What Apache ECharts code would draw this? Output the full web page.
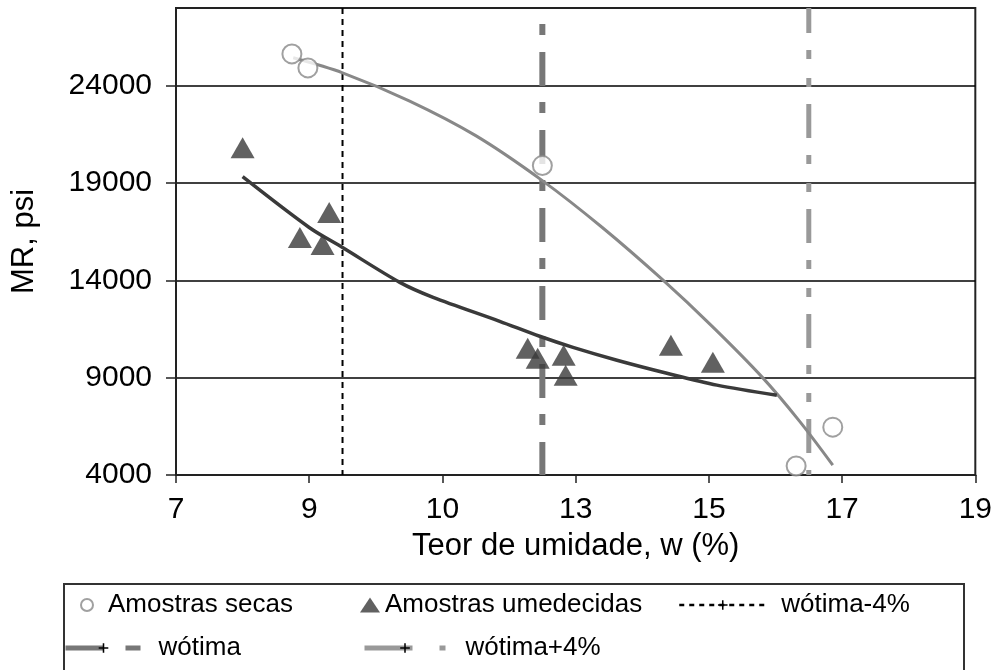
<!DOCTYPE html>
<html>
<head>
<meta charset="utf-8">
<script src="https://cdn.jsdelivr.net/npm/echarts@6/dist/echarts.min.js"></script>
<style>html,body{margin:0;padding:0;background:#fff}#c{width:995px;height:670px}</style>
</head>
<body>
<div id="c"></div>
<script>
// ---- data ----
var xTickValues = [7, 9, 11, 13, 15, 17, 19];
var xTickLabels = ['7', '9', '10', '13', '15', '17', '19'];
var yTickValues = [4000, 9000, 14000, 19000, 24000];

var secasX = [8.74, 8.98, 12.5, 16.31, 16.86];
var secasY = [25640, 24920, 19900, 4460, 6460];

var umedX = [8.0, 8.86, 9.2, 9.3, 12.28, 12.43, 12.82, 12.85, 14.43, 15.06];
var umedY = [20820, 16200, 15850, 17490, 10510, 10000, 10150, 9130, 10670, 9800];

var fitSecasX = [8.76, 9.5, 10.5, 11.5, 12.5, 13.4, 14.3, 15.05, 15.8, 16.36, 16.86];
var fitSecasY = [25440, 24670, 23230, 21440, 19130, 16720, 14050, 11640, 9030, 6770, 4510];

var fitUmedX = [8.0, 9.0, 9.5, 10.36, 10.86, 11.86, 12.46, 12.96, 13.62, 14.37, 15.12, 16.02];
var fitUmedY = [19330, 16720, 15690, 13900, 13130, 11900, 11130, 10560, 9900, 9230, 8620, 8100];

var wOtimaMenos = 9.5, wOtima = 12.5, wOtimaMais = 16.5;
var yMin = 4000, yMax = 28000;

function pairs(xs, ys) { return xs.map(function (x, i) { return [x, ys[i]]; }); }
function vline(x) { return [[x, yMax], [x, yMin]]; }

var FONT = '"Liberation Sans", Arial, sans-serif';
var PLUS = 'path://M4.2,0H5.8V4.2H10V5.8H5.8V10H4.2V5.8H0V4.2H4.2Z';
function lt(pad) { return { fontFamily: FONT, fontSize: 26, color: '#000', padding: [0, 0, 0, pad] }; }
var plusStyle = { color: '#000', borderWidth: 0, borderType: 'solid' };

var chart = echarts.init(document.getElementById('c'), null, { renderer: 'canvas' });
chart.setOption({
  animation: false,
  backgroundColor: '#fff',
  grid: { left: 176, top: 8, right: 19, bottom: 195, show: true, borderColor: '#222', borderWidth: 2, backgroundColor: 'transparent' },
  xAxis: {
    type: 'value', min: 7, max: 19, interval: 2,
    name: 'Teor de umidade, w (%)', nameLocation: 'middle', nameGap: 56,
    nameTextStyle: { fontFamily: FONT, fontSize: 31, color: '#000' },
    axisLine: { lineStyle: { color: '#222', width: 2 } },
    axisTick: { show: true, length: 8, lineStyle: { color: '#222', width: 1.5 } },
    axisLabel: {
      margin: 20, fontFamily: FONT, fontSize: 30, color: '#000',
      formatter: function (v) { var i = xTickValues.indexOf(v); return i >= 0 ? xTickLabels[i] : ''; }
    },
    splitLine: { show: false }
  },
  yAxis: {
    type: 'value', min: yMin, max: yMax, interval: 5000,
    name: 'MR, psi', nameLocation: 'middle', nameGap: 136, nameRotate: 90,
    nameTextStyle: { fontFamily: FONT, fontSize: 31, color: '#000' },
    axisLine: { lineStyle: { color: '#222', width: 2 } },
    axisTick: { show: true, length: 10, customValues: yTickValues, lineStyle: { color: '#222', width: 1.5 } },
    axisLabel: {
      margin: 24, fontFamily: FONT, fontSize: 30, color: '#000', customValues: yTickValues,
      formatter: function (v) { return String(v); }
    },
    splitLine: { show: true, lineStyle: { color: '#000', width: 1.5 } }
  },
  legend: [
    { data: ['Amostras secas'], left: 80, top: 592, padding: 0, itemWidth: 20, itemHeight: 12, textStyle: lt(6), selectedMode: false },
    { data: ['Amostras umedecidas'], left: 360, top: 592, padding: 0, itemWidth: 20, itemHeight: 15, textStyle: lt(0), selectedMode: false },
    { data: ['wótima-4%'], left: 678, top: 592, padding: 0, itemWidth: 87, itemHeight: 12, textStyle: lt(10),
      itemStyle: plusStyle,
      lineStyle: { color: '#000', width: 2.5, type: [5, 5], dashOffset: 0 }, selectedMode: false },
    { data: ['wótima'], left: 63, top: 635, padding: 0, itemWidth: 76, itemHeight: 12, textStyle: lt(12),
      itemStyle: plusStyle,
      lineStyle: { color: '#777', width: 5, type: [38, 22, 15, 100], dashOffset: 0 }, selectedMode: false },
    { data: ['wótima+4%'], left: 362, top: 635, padding: 0, itemWidth: 81, itemHeight: 12, textStyle: lt(15),
      itemStyle: plusStyle,
      lineStyle: { color: '#999', width: 5, type: [48, 27, 6, 100], dashOffset: 0 }, selectedMode: false }
  ],
  graphic: [{
    type: 'rect', left: 63, top: 583, z: -1,
    shape: { width: 900, height: 100 },
    style: { fill: 'transparent', stroke: '#333', lineWidth: 2 }
  }],
  series: [
    {
      name: 'wótima-4%', type: 'line', data: vline(wOtimaMenos),
      symbol: PLUS, symbolSize: 12, showSymbol: false, itemStyle: { color: '#000' },
      lineStyle: { color: '#000', width: 2, type: [6, 5] }, z: 2
    },
    {
      name: 'wótima', type: 'line', data: vline(wOtima),
      symbol: PLUS, symbolSize: 12, showSymbol: false, itemStyle: { color: '#000' },
      lineStyle: { color: '#777', width: 6, type: [11, 17, 34, 16], dashOffset: 62 }, z: 2
    },
    {
      name: 'wótima+4%', type: 'line', data: vline(wOtimaMais),
      symbol: PLUS, symbolSize: 12, showSymbol: false, itemStyle: { color: '#000' },
      lineStyle: { color: '#999', width: 5, type: [34, 17, 9, 19, 9, 17], dashOffset: 9 }, z: 2
    },
    {
      name: 'fitSecas', type: 'line', data: pairs(fitSecasX, fitSecasY), smooth: 0.3,
      symbol: 'none', lineStyle: { color: '#888', width: 3 }, z: 3
    },
    {
      name: 'fitUmed', type: 'line', data: pairs(fitUmedX, fitUmedY), smooth: 0.3,
      symbol: 'none', lineStyle: { color: '#3a3a3a', width: 3.5 }, z: 3
    },
    {
      name: 'Amostras secas', type: 'scatter', data: pairs(secasX, secasY),
      symbol: 'circle', symbolSize: 19,
      itemStyle: { color: '#fff', borderColor: '#888', borderWidth: 2 }, z: 4
    },
    {
      name: 'Amostras umedecidas', type: 'scatter', data: pairs(umedX, umedY),
      symbol: 'triangle', symbolSize: [24, 21],
      itemStyle: { color: '#3a3a3a' }, z: 4
    }
  ]
});
</script>
</body>
</html>
